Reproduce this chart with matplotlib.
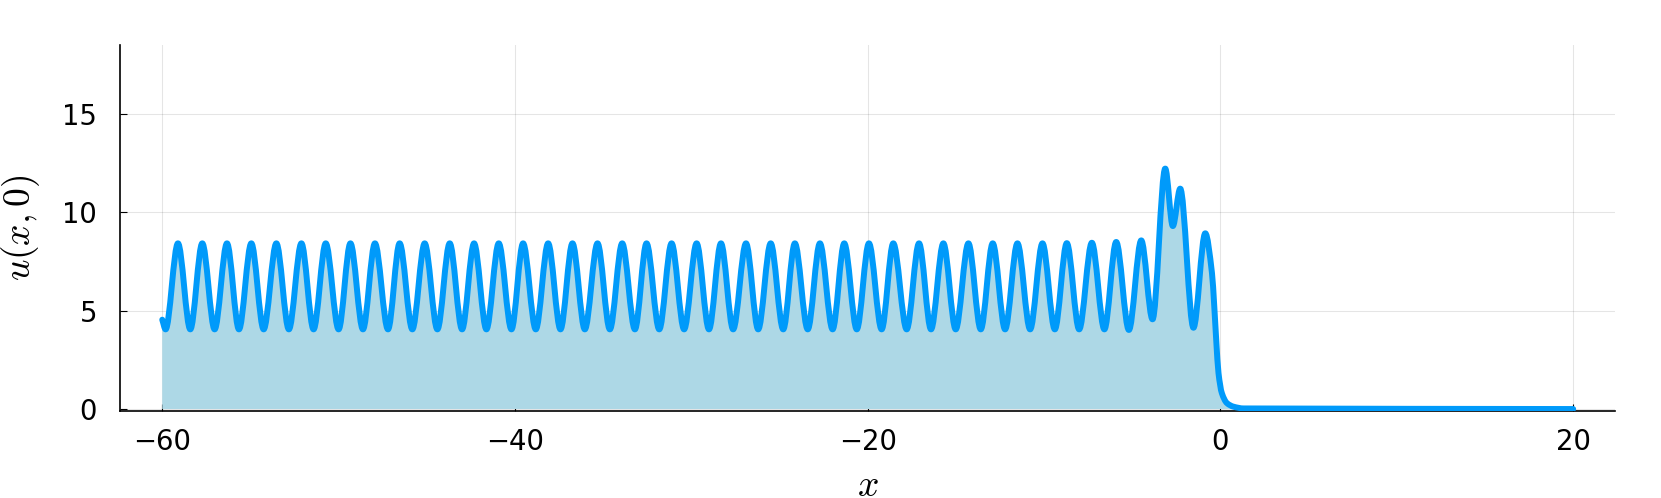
import numpy as np
import matplotlib.pyplot as plt
from matplotlib.path import Path
from matplotlib.patches import PathPatch

plt.rcParams['mathtext.fontset'] = 'cm'
plt.rcParams['font.family'] = 'DejaVu Sans'

# values
x_start = [-60.0]
u_start = [4.54]

# crests of the wave train, then the three big ones near the front
x_peaks = [-59.11, -57.73, -56.33, -54.95, -53.53, -52.11, -50.73, -49.33, -47.94, -46.54,
           -45.12, -43.70, -42.32, -40.92, -39.54, -38.12, -36.74, -35.32, -33.92, -32.54,
           -31.12, -29.70, -28.32, -26.90, -25.50, -24.13, -22.71, -21.33, -19.93, -18.55,
           -17.09, -15.71, -14.29, -12.91, -11.51, -10.09, -8.71, -7.29, -5.91, -4.49,
           -3.13, -2.28, -0.86]
u_peaks = [8.42, 8.42, 8.42, 8.42, 8.42, 8.42, 8.42, 8.42, 8.42, 8.42,
           8.42, 8.42, 8.42, 8.42, 8.42, 8.42, 8.42, 8.42, 8.42, 8.42,
           8.42, 8.42, 8.42, 8.42, 8.42, 8.42, 8.42, 8.42, 8.42, 8.42,
           8.42, 8.42, 8.42, 8.42, 8.42, 8.42, 8.43, 8.45, 8.49, 8.57,
           12.22, 11.20, 8.93]

# troughs between the crests
x_troughs = [-59.81, -58.41, -57.03, -55.65, -54.25, -52.82, -51.42, -50.00, -48.62, -47.20,
             -45.82, -44.40, -43.00, -41.62, -40.20, -38.82, -37.42, -36.04, -34.62, -33.20,
             -31.82, -30.41, -29.00, -27.63, -26.21, -24.79, -23.40, -21.99, -20.62, -19.21,
             -17.79, -16.41, -15.01, -13.59, -12.21, -10.79, -9.39, -8.01, -6.58, -5.19,
             -3.85, -2.70, -1.53]
u_troughs = [4.05, 4.05, 4.05, 4.05, 4.05, 4.05, 4.05, 4.05, 4.05, 4.05,
             4.05, 4.05, 4.05, 4.05, 4.05, 4.05, 4.05, 4.05, 4.05, 4.05,
             4.05, 4.05, 4.05, 4.05, 4.05, 4.05, 4.05, 4.05, 4.05, 4.05,
             4.05, 4.05, 4.05, 4.05, 4.05, 4.05, 4.05, 4.05, 4.05, 4.02,
             4.56, 9.30, 4.13]

# the front dropping to zero and the flat tail
x_tail = [-0.48, -0.35, -0.24, -0.11, 0.08, 0.37, 0.74, 1.31, 20.0]
u_tail = [6.91, 5.22, 3.52, 1.83, 0.81, 0.30, 0.12, 0.03, 0.0]

xticks = [-60, -40, -20, 0, 20]
yticks = [0, 5, 10, 15]

line_color = '#009AFA'
fill_color = '#ADD8E6'


def smooth_path(x, y):
    # cubic bezier pieces through the points, monotone tangents (flat at crests/troughs)
    x = np.asarray(x)
    y = np.asarray(y)
    d = np.diff(y) / np.diff(x)
    m = np.zeros(len(x))
    m[0] = d[0]
    m[-1] = d[-1]
    for i in range(1, len(x) - 1):
        if d[i - 1] * d[i] > 0:
            m[i] = 2 / (1 / d[i - 1] + 1 / d[i])
    verts = [(x[0], y[0])]
    codes = [Path.MOVETO]
    for i in range(len(x) - 1):
        h = (x[i + 1] - x[i]) / 3
        verts += [(x[i] + h, y[i] + m[i] * h),
                  (x[i + 1] - h, y[i + 1] - m[i + 1] * h),
                  (x[i + 1], y[i + 1])]
        codes += [Path.CURVE4] * 3
    return verts, codes


xs = np.array(x_start + x_peaks + x_troughs + x_tail)
us = np.array(u_start + u_peaks + u_troughs + u_tail)
order = np.argsort(xs)
xs, us = xs[order], us[order]

verts, codes = smooth_path(xs, us)

fig = plt.figure(figsize=(16.61, 4.98), dpi=100)
ax = fig.add_axes([0.0722, 0.1747, 0.9004, 0.7349])

# area under the curve
fill_verts = verts + [(xs[-1], 0), (xs[0], 0), (xs[0], us[0])]
fill_codes = codes + [Path.LINETO, Path.LINETO, Path.CLOSEPOLY]
ax.add_patch(PathPatch(Path(fill_verts, fill_codes), facecolor=fill_color,
                       edgecolor='none', zorder=2))
ax.add_patch(PathPatch(Path(verts, codes), facecolor='none', edgecolor=line_color,
                       linewidth=4.3, capstyle='round', joinstyle='round', zorder=3))

ax.set_xlim(-62.4, 22.4)
ax.set_ylim(-0.1, 18.5)
ax.set_xticks(xticks)
ax.set_yticks(yticks)
ax.grid(True, color='black', alpha=0.1, linewidth=0.8)
ax.set_axisbelow(True)

for side in ['top', 'right']:
    ax.spines[side].set_visible(False)
for side in ['left', 'bottom']:
    ax.spines[side].set_linewidth(1.2)

ax.tick_params(axis='both', direction='in', length=5, width=0.8, labelsize=19.8)
ax.tick_params(axis='x', pad=12.5)
ax.tick_params(axis='y', pad=16.5)

ax.set_xlabel(r'$x$', fontsize=27)
ax.set_ylabel(r'$u(x,0)$', fontsize=27)
ax.xaxis.set_label_coords(0.5, -0.155)
ax.yaxis.set_label_coords(-0.0524, 0.5)

fig.savefig('out.png', dpi=100)
